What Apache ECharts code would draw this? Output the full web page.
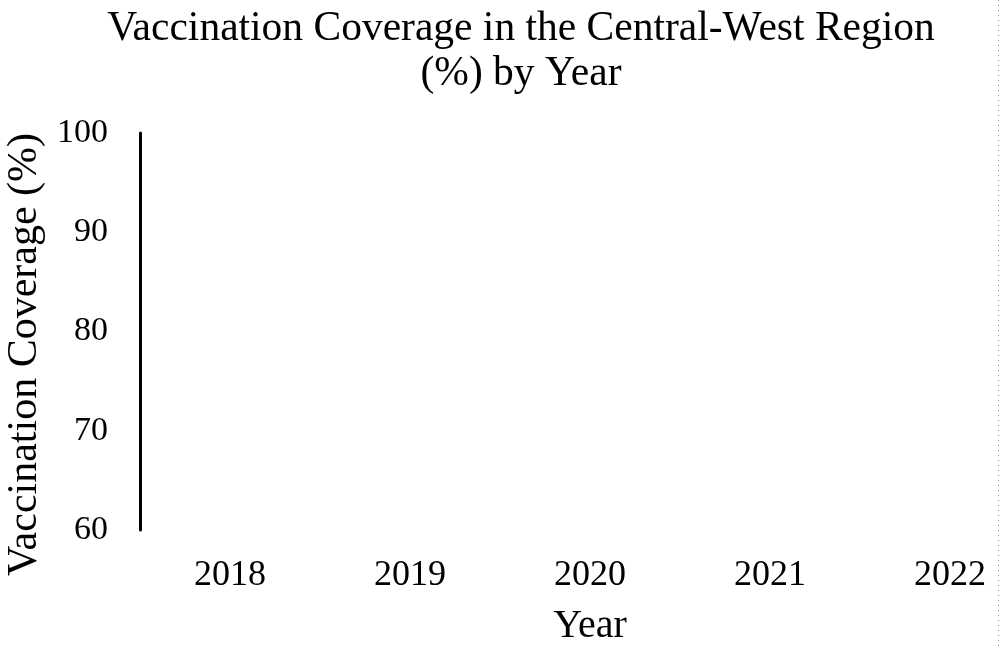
<!DOCTYPE html>
<html>
<head>
    <meta charset="utf-8" />
    <title>Vaccination Coverage</title>
    <style>
        html, body { margin: 0; padding: 0; background: #fff; }
        #chart { width: 1000px; height: 649px; }
    </style>
</head>
<body>
    <div id="chart"></div>
    <script src="https://cdn.jsdelivr.net/npm/echarts@6/dist/echarts.min.js"></script>
    <script>
        // categories and values (no coverage values are drawn in the source chart)
        var years = ['2018', '2019', '2020', '2021', '2022'];
        var coverage = [null, null, null, null, null];
        var yMin = 60, yMax = 100, yStep = 10;

        var serif = '"Liberation Serif", "Times New Roman", serif';

        var option = {
            backgroundColor: '#fff',
            animation: false,
            title: {
                text: 'Vaccination Coverage in the Central-West Region\n(%) by Year',
                left: 516,
                top: 2,
                textAlign: 'center',
                textStyle: {
                    fontFamily: serif,
                    fontWeight: 'normal',
                    fontSize: 41.5,
                    lineHeight: 45,
                    color: '#000'
                }
            },
            grid: {
                left: 230,
                right: 50,
                top: 133,
                bottom: 119,
                containLabel: false,
                outerBoundsMode: 'none'
            },
            xAxis: {
                type: 'category',
                data: years,
                boundaryGap: false,
                name: 'Year',
                nameLocation: 'middle',
                nameGap: 76,
                nameTextStyle: { fontFamily: serif, fontSize: 40, color: '#000' },
                axisLine: { show: false },
                axisTick: { show: false },
                splitLine: { show: false },
                axisLabel: { fontFamily: serif, fontSize: 36, color: '#000', margin: 28 }
            },
            yAxis: {
                type: 'value',
                min: yMin,
                max: yMax,
                interval: yStep,
                offset: 90,
                name: 'Vaccination Coverage (%)',
                nameLocation: 'middle',
                nameGap: 90,
                nameTextStyle: { fontFamily: serif, fontSize: 42, color: '#000', padding: [0, 46, 0, 0] },
                axisLine: { show: true, lineStyle: { color: '#000', width: 3 } },
                axisTick: { show: false },
                splitLine: { show: false },
                axisLabel: { fontFamily: serif, fontSize: 34, color: '#000', margin: 32 }
            },
            graphic: [{
                type: 'line',
                shape: { x1: 998.5, y1: 0, x2: 998.5, y2: 649 },
                style: { stroke: '#8a8ab8', lineWidth: 1, lineDash: [1, 4] }
            }],
            series: [{
                name: 'Coverage',
                type: 'line',
                data: coverage,
                showSymbol: false,
                lineStyle: { color: '#000' }
            }]
        };

        var chart = echarts.init(document.getElementById('chart'));
        chart.setOption(option);
    </script>
</body>
</html>
